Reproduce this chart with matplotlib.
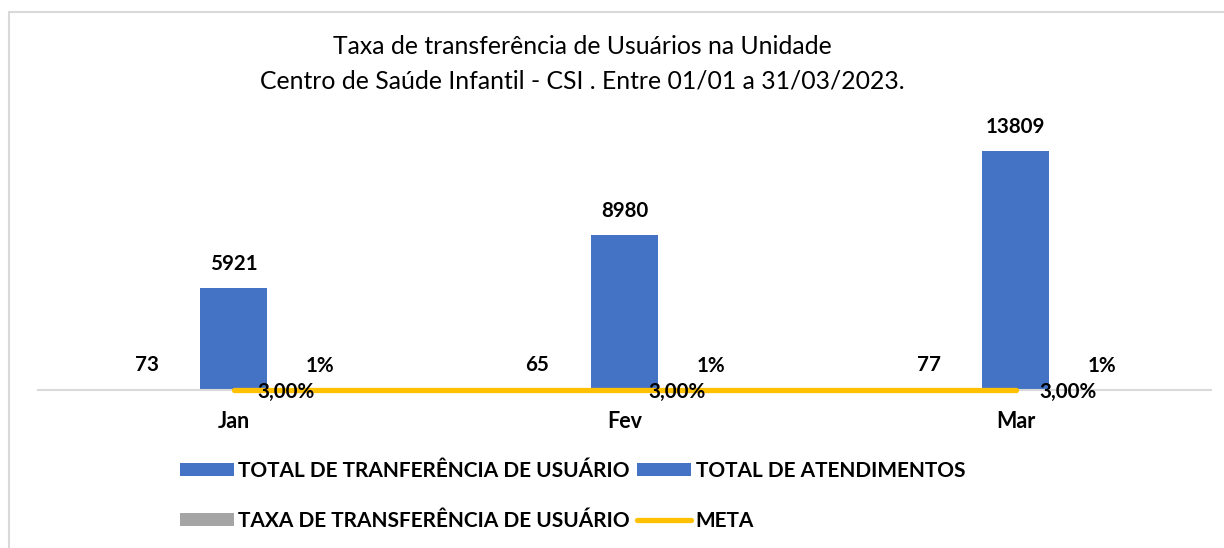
import matplotlib
matplotlib.use("Agg")
import matplotlib.pyplot as plt
import numpy as np
from matplotlib.patches import Rectangle

plt.rcParams['font.family'] = ['Lato', 'DejaVu Sans']

# ---- data ----
meses = ["Jan", "Fev", "Mar"]
total_transferencia = [73, 65, 77]
total_atendimentos = [5921, 8980, 13809]
taxa_transferencia_pct = [1, 1, 1]          # shown as "1%"
meta_pct = [3.00, 3.00, 3.00]               # shown as "3,00%"

titulo = ["Taxa de transferência de Usuários na Unidade",
          "Centro de Saúde Infantil - CSI . Entre 01/01 a 31/03/2023."]
nomes_series = ["TOTAL DE TRANFERÊNCIA DE USUÁRIO", "TOTAL DE ATENDIMENTOS",
                "TAXA DE TRANSFERÊNCIA DE USUÁRIO", "META"]

# ---- style ----
BLUE = "#4472C4"
GRAY = "#A5A5A5"
YELLOW = "#FFC000"
W, H = 1224, 548
FS_TITLE = 17.8
FS_LBL = 14.8
FS_TICK = 15.5
FS_LEG = 15

fig = plt.figure(figsize=(W / 100, H / 100), dpi=100)

# chart border
fig.patches.append(Rectangle((9 / W, -0.1), 1.2, (H - 12) / H + 0.1,
                             transform=fig.transFigure, fill=False,
                             edgecolor="#D9D9D9", linewidth=1.5))

ax = fig.add_axes([38 / W, (H - 390) / H, 1173 / W, 280 / H])
x = np.arange(len(meses))
bw = 0.171
off = 0.2225

b1 = ax.bar(x - off, total_transferencia, bw, color=BLUE, label=nomes_series[0])
b2 = ax.bar(x, total_atendimentos, bw, color=BLUE, label=nomes_series[1])
b3 = ax.bar(x + off, [v / 100 for v in taxa_transferencia_pct], bw, color=GRAY,
            label=nomes_series[2])
ln, = ax.plot(x, [v / 100 for v in meta_pct], color=YELLOW, linewidth=3.8,
              solid_capstyle="round", label=nomes_series[3], zorder=3,
              clip_on=False)

ax.set_xlim(-0.5, 2.5)
ax.set_ylim(0, 16180)

for s in ["top", "right", "left"]:
    ax.spines[s].set_visible(False)
ax.spines["bottom"].set_color("#D9D9D9")
ax.spines["bottom"].set_linewidth(1.5)
ax.set_yticks([])
ax.set_xticks(x)
ax.set_xticklabels(meses, fontsize=FS_TICK, fontweight="bold")
ax.tick_params(axis="x", length=0, pad=15)

lbl_off = 17.3
for xi, v in zip(x - off, total_transferencia):
    ax.annotate(f"{v}", (xi, v), xytext=(0, lbl_off), textcoords="offset points",
                ha="center", va="center", fontsize=FS_LBL, fontweight="bold")
for xi, v in zip(x, total_atendimentos):
    ax.annotate(f"{v}", (xi, v), xytext=(0, lbl_off), textcoords="offset points",
                ha="center", va="center", fontsize=FS_LBL, fontweight="bold")
for xi, v in zip(x + off, taxa_transferencia_pct):
    ax.annotate(f"{v}%", (xi, v / 100), xytext=(0, lbl_off), textcoords="offset points",
                ha="center", va="center", fontsize=FS_LBL, fontweight="bold")
for xi, v in zip(x, meta_pct):
    ax.annotate(f"{v:.2f}".replace(".", ",") + "%", (xi, v / 100), xytext=(17, -1.5),
                textcoords="offset points", ha="left", va="center",
                fontsize=FS_LBL, fontweight="bold", zorder=5)

# title
fig.text(582 / W, 1 - 47 / H, titulo[0], ha="center", va="center", fontsize=FS_TITLE)
fig.text(582 / W, 1 - 81 / H, titulo[1], ha="center", va="center", fontsize=FS_TITLE)

# legend (column-major fill -> order so rows read b1,b2 / b3,ln)
leg = fig.legend([b1, b3, b2, ln],
                 [nomes_series[0], nomes_series[2], nomes_series[1], nomes_series[3]],
                 ncol=2, loc="upper left", bbox_to_anchor=(180 / W, 1 - 461 / H),
                 frameon=False, handlelength=2.6, handleheight=0.6,
                 handletextpad=0.2, columnspacing=0.35, labelspacing=1.45,
                 borderpad=0, borderaxespad=0,
                 prop={"size": FS_LEG, "weight": "bold"})

fig.savefig("out.png", dpi=100)
